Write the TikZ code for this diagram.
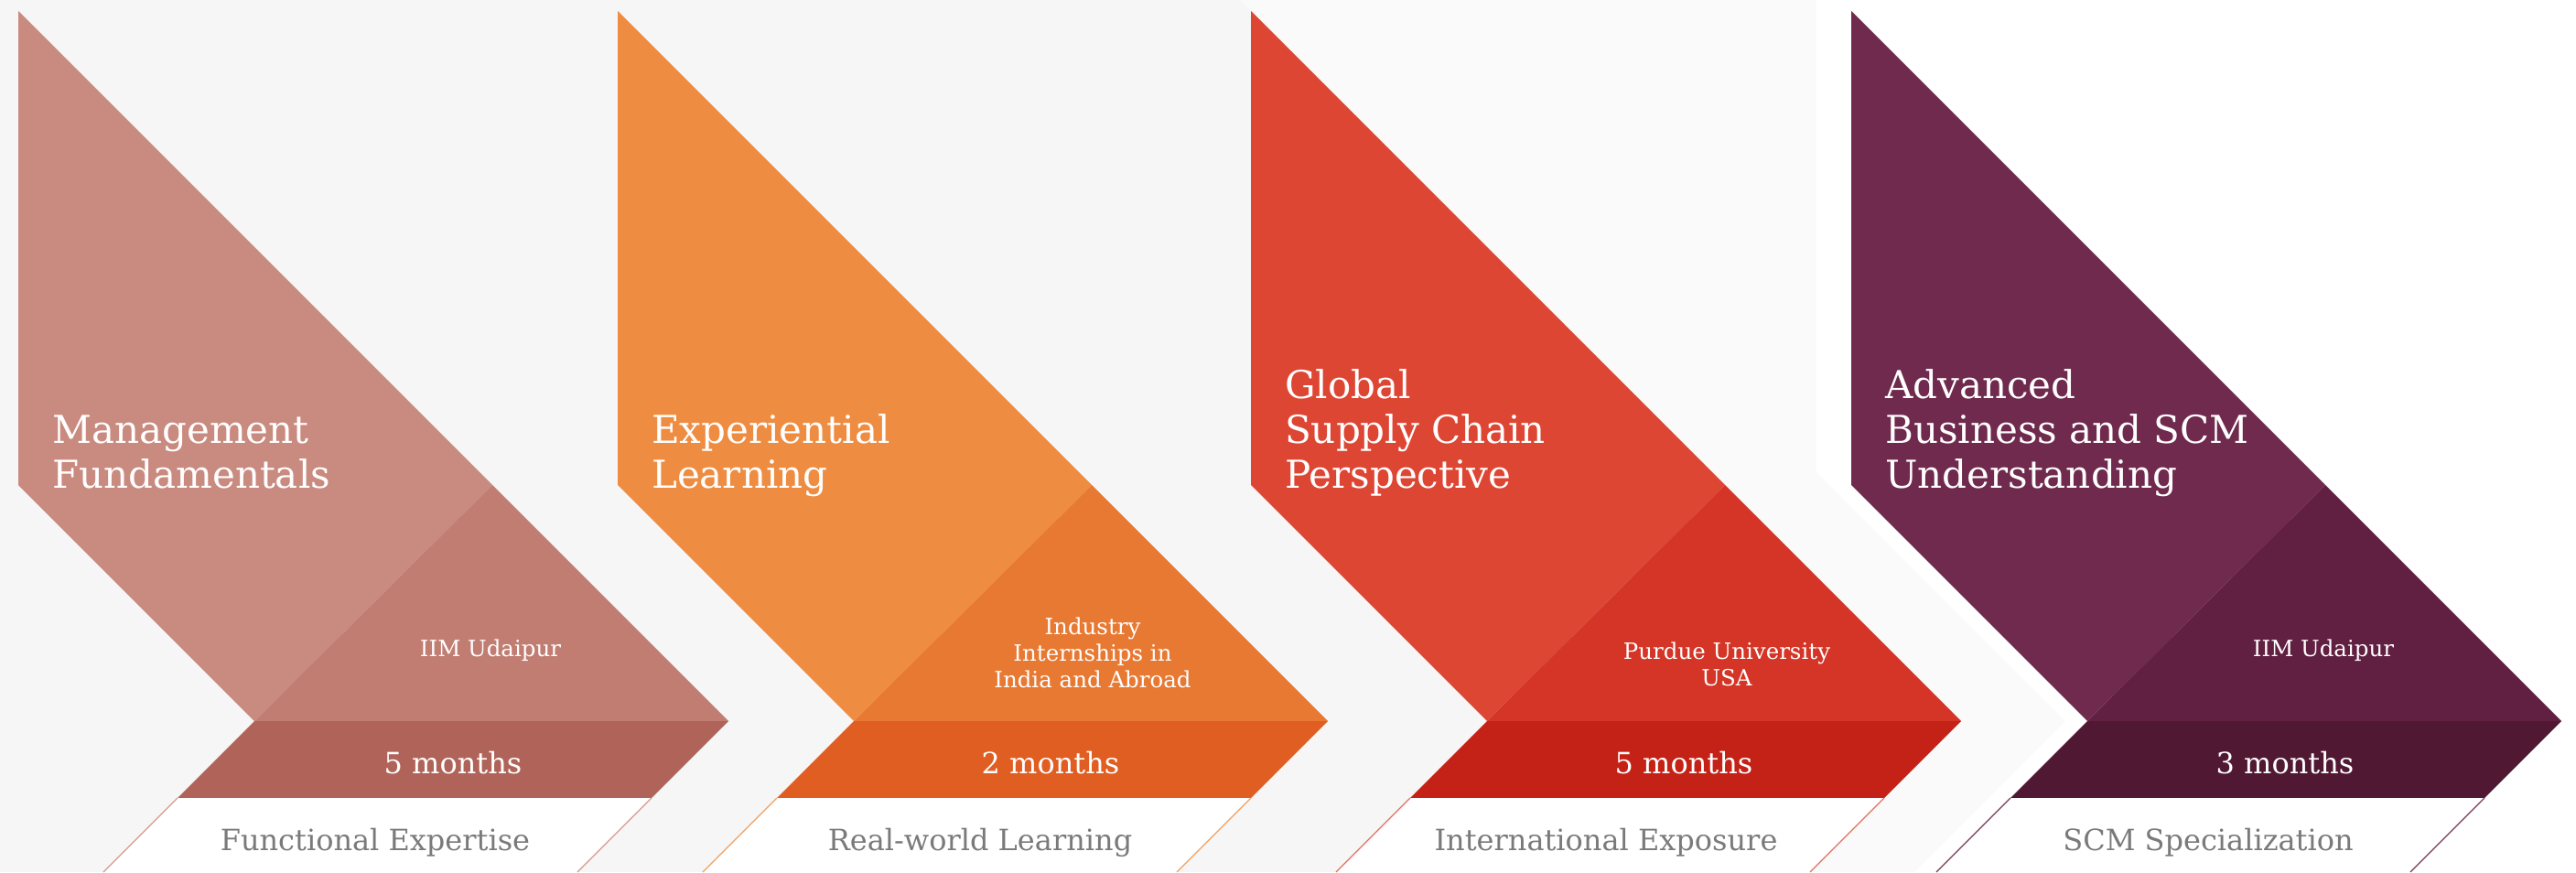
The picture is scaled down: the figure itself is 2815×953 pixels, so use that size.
\documentclass[tikz,border=0pt]{standalone}
\usepackage{fontspec}
\setmainfont{DejaVu Serif}
\definecolor{bgL}{HTML}{F6F6F6}
\definecolor{bgR}{HTML}{FAFAFA}
\definecolor{aL}{HTML}{C98A7F}\definecolor{aT}{HTML}{C17D72}\definecolor{aB}{HTML}{B06459}\definecolor{aE}{HTML}{D49A8E}
\definecolor{bL}{HTML}{EE8D42}\definecolor{bT}{HTML}{E87933}\definecolor{bB}{HTML}{E05E22}\definecolor{bE}{HTML}{F0A060}
\definecolor{cL}{HTML}{DE4634}\definecolor{cT}{HTML}{D43526}\definecolor{cB}{HTML}{C52217}\definecolor{cE}{HTML}{E57060}
\definecolor{dL}{HTML}{6F2A4D}\definecolor{dT}{HTML}{612041}\definecolor{dB}{HTML}{511833}\definecolor{dE}{HTML}{7A3A5A}
\definecolor{lblgrey}{HTML}{7A7A7A}
\newcommand{\mychevron}[5]{%
  % #1 = x of left edge, #2 light, #3 triangle, #4 band, #5 edge line
  \fill[#2] (#1,12) -- (#1+518,530) -- (#1+258,788) -- (#1,530) -- cycle;
  \fill[#3] (#1+518,530) -- (#1+776,788) -- (#1+258,788) -- cycle;
  \fill[#4] (#1+258,788) -- (#1+776,788) -- (#1+692,872) -- (#1+174,872) -- cycle;
  \fill[white] (#1+174,872) -- (#1+692,872) -- (#1+611,953) -- (#1+93,953) -- cycle;
  \draw[#5, line width=1.2pt] (#1+174,872) -- (#1+93,953);
  \draw[#5, line width=1.2pt] (#1+692,872) -- (#1+611,953);
}
\tikzset{
  titletext/.style={anchor=base west, inner sep=0pt, align=left, text=white,
    font=\fontsize{42}{49}\selectfont},
  subtext/.style={anchor=base, inner sep=0pt, align=center, text=white,
    font=\fontsize{24.5}{29}\selectfont},
  monthtext/.style={anchor=base, inner sep=0pt, text=white,
    font=\fontsize{32}{38}\selectfont},
  bottomtext/.style={anchor=base, inner sep=0pt, text=lblgrey,
    font=\fontsize{32}{38}\selectfont},
}
\begin{document}
\begin{tikzpicture}[x=1pt,y=-1pt]
\useasboundingbox (0,0) rectangle (2815,953);
\fill[bgL] (0,0) rectangle (2815,953);
\fill[bgR] (1355,0) -- (2023,0) -- (2023,530) -- (2281,788) -- (2116,953) -- (1978,953) -- (2143,788) -- (1367,12) -- cycle;
\fill[white] (2023,12) -- (2799,788) -- (2815,788) -- (2815,0) -- (2023,0) -- cycle;
\fill[white] (2799,788) -- (2815,788) -- (2815,953) -- (2634,953) -- cycle;
\fill[white] (1985,0) -- (2023,0) -- (2023,530) -- (2281,788) -- (2116,953) -- (2092,953) -- (2257,788) -- (1985,516) -- cycle;

\mychevron{20}{aL}{aT}{aB}{aE}
\mychevron{675}{bL}{bT}{bB}{bE}
\mychevron{1367}{cL}{cT}{cB}{cE}
\mychevron{2023}{dL}{dT}{dB}{dE}

\node[titletext] (t1) at (57,533) {Management\\Fundamentals};
\node[titletext] (t2) at (712,533) {Experiential\\Learning};
\node[titletext] (t3) at (1404,533) {Global\\Supply Chain\\Perspective};
\node[titletext] (t4) at (2060,533) {Advanced\\Business and SCM\\Understanding};

\node[subtext] (s1) at (536,717) {IIM Udaipur};
\node[subtext] (s2) at (1194,751) {Industry\\Internships in\\India and Abroad};
\node[subtext] (s3) at (1887,749) {Purdue University\\USA};
\node[subtext] (s4) at (2539,717) {IIM Udaipur};

\node[monthtext] (m1) at (495,845) {5 months};
\node[monthtext] (m2) at (1148,845) {2 months};
\node[monthtext] (m3) at (1840,845) {5 months};
\node[monthtext] (m4) at (2497,845) {3 months};

\node[bottomtext] (b1) at (410,929) {Functional Expertise};
\node[bottomtext] (b2) at (1071,929) {Real-world Learning};
\node[bottomtext] (b3) at (1755,929) {International Exposure};
\node[bottomtext] (b4) at (2413,929) {SCM Specialization};
\end{tikzpicture}
\end{document}
